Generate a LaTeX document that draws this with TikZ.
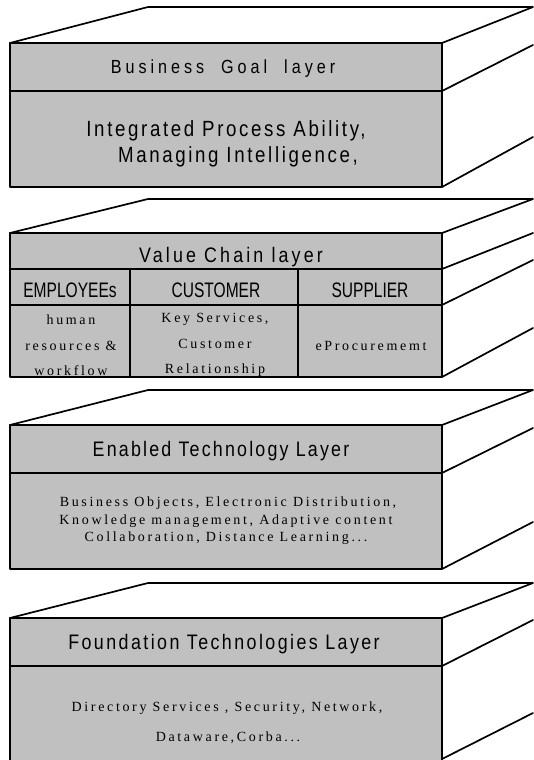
\documentclass[tikz,border=0pt]{standalone}
\usepackage{fontspec}
\newfontfamily\hdfontA[FakeStretch=0.85,LetterSpace=21]{Liberation Sans}
\newfontfamily\hdfontB[FakeStretch=0.85,LetterSpace=15]{Liberation Sans}
\newfontfamily\hdfontC[FakeStretch=0.85,LetterSpace=10.5]{Liberation Sans}
\newfontfamily\hdfontD[FakeStretch=0.85,LetterSpace=11.6]{Liberation Sans}
\newfontfamily\cdfont[FakeStretch=0.74]{Liberation Sans}
\newfontfamily\bdfont[FakeStretch=0.85,LetterSpace=12]{Liberation Sans}
\newfontfamily\srfont[LetterSpace=19]{Liberation Serif}
\definecolor{boxgray}{RGB}{192,192,192}
\tikzset{
  edge/.style={line width=1.7pt, line join=round, line cap=round},
  front/.style={edge, fill=boxgray},
  topface/.style={edge, fill=white},
  txt/.style={anchor=base, inner sep=0pt},
  hdA/.style={txt, font=\hdfontA\fontsize{19}{19}\selectfont},
  hdB/.style={txt, font=\hdfontB\fontsize{21}{21}\selectfont},
  hdC/.style={txt, font=\hdfontC\fontsize{21}{21}\selectfont},
  hdD/.style={txt, font=\hdfontD\fontsize{21}{21}\selectfont},
  cdtext/.style={txt, font=\cdfont\fontsize{21}{21}\selectfont},
  bdtext/.style={txt, font=\bdfont\fontsize{22}{22}\selectfont},
  srtext/.style={txt, font=\srfont\fontsize{14}{14}\selectfont},
}
\begin{document}
\begin{tikzpicture}[x=1pt,y=-1pt]
\useasboundingbox[fill=white] (0,0) rectangle (533,760);
% ---------- Layer 1
\draw[topface] (10,43) -- (148,7) -- (533,7) -- (442,43) -- cycle;
\draw[front] (10,43) rectangle (442,187);
\draw[edge] (10,91) -- (442,91);
\draw[edge] (442,91) -- (533,45);
\draw[edge] (442,187) -- (533,137);
\node[hdA] (l1h) at (223,74) {Business\ \ Goal\ \ layer};
\node[bdtext] (l1a) at (226,136.5) {Integrated Process Ability,};
\node[bdtext] (l1b) at (238,162) {Managing Intelligence,};
% ---------- Layer 2
\draw[topface] (10,233) -- (148,199) -- (533,199) -- (442,233) -- cycle;
\draw[front] (10,233) rectangle (442,377);
\draw[edge] (10,269) -- (442,269);
\draw[edge] (10,305) -- (442,305);
\draw[edge] (130,269) -- (130,377);
\draw[edge] (298,269) -- (298,377);
\draw[edge] (442,269) -- (533,233);
\draw[edge] (442,305) -- (533,260);
\draw[edge] (442,377) -- (533,328);
\node[hdB] (l2h) at (231,262) {Value Chain layer};
\node[cdtext] (c1) at (70,297) {EMPLOYEEs};
\node[cdtext] (c2) at (216,297) {CUSTOMER};
\node[cdtext] (c3) at (370,297) {SUPPLIER};
\node[srtext] (c1a) at (71,324) {human};
\node[srtext] (c1b) at (71,350) {resources \&};
\node[srtext] (c1c) at (71,375) {workflow};
\node[srtext] (c2a) at (215,322) {Key Services,};
\node[srtext] (c2b) at (215,348) {Customer};
\node[srtext] (c2c) at (215,373) {Relationship};
\node[srtext] (c3a) at (371,350) {eProcurememt};
% ---------- Layer 3
\draw[topface] (10,425) -- (148,390) -- (533,390) -- (442,425) -- cycle;
\draw[front] (10,425) rectangle (442,569);
\draw[edge] (10,473) -- (442,473);
\draw[edge] (442,473) -- (533,428);
\draw[edge] (442,569) -- (533,522);
\node[hdC] (l3h) at (221,456) {Enabled Technology Layer};
\node[srtext] (l3a) at (228,506) {Business Objects, Electronic Distribution,};
\node[srtext] (l3b) at (226,524) {Knowledge management, Adaptive content};
\node[srtext] (l3c) at (226,541.5) {Collaboration, Distance Learning...};
% ---------- Layer 4
\draw[topface] (10,618) -- (148,583) -- (533,583) -- (442,618) -- cycle;
\draw[front] (10,618) rectangle (442,765);
\draw[edge] (10,666) -- (442,666);
\draw[edge] (442,666) -- (533,620);
\draw[edge] (442,759) -- (533,713);
\node[hdD] (l4h) at (224,649) {Foundation Technologies Layer};
\node[srtext] (l4a) at (227,711) {Directory Services , Security, Network,};
\node[srtext] (l4b) at (228,741) {Dataware,Corba...};
\end{tikzpicture}
\end{document}
